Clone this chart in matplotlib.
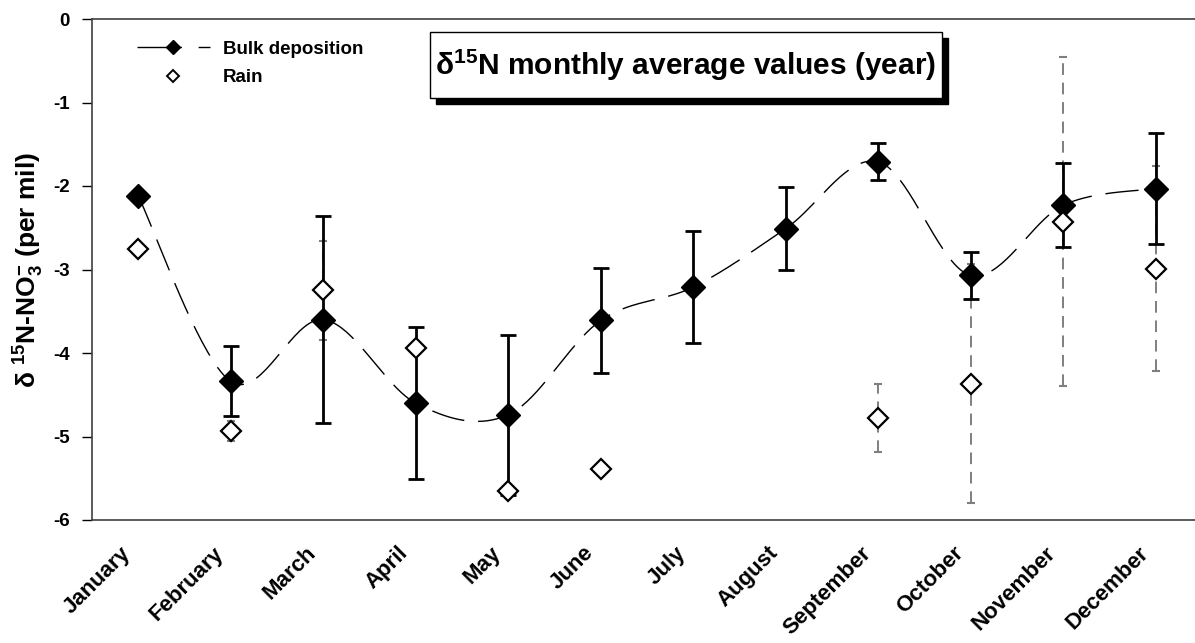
import numpy as np
import matplotlib
matplotlib.use('Agg')
import matplotlib.pyplot as plt
from matplotlib.lines import Line2D
from matplotlib.patches import Rectangle
import matplotlib.transforms as mtransforms

plt.rcParams['font.family'] = ['Liberation Sans', 'DejaVu Sans']
plt.rcParams['font.weight'] = 'bold'
plt.rcParams['axes.unicode_minus'] = False
plt.rcParams['mathtext.fontset'] = 'custom'
plt.rcParams['mathtext.rm'] = 'Liberation Sans:bold'
plt.rcParams['mathtext.bf'] = 'Liberation Sans:bold'
plt.rcParams['mathtext.it'] = 'Liberation Sans:bold:italic'

months = ['January', 'February', 'March', 'April', 'May', 'June', 'July',
          'August', 'September', 'October', 'November', 'December']

# monthly mean delta15N-NO3 (per mil) and standard deviations
bulk = [-2.12, -4.34, -3.60, -4.60, -4.74, -3.61, -3.21, -2.51, -1.71, -3.07, -2.23, -2.03]
bulk_sd = [0.0, 0.42, 1.24, 0.91, 0.96, 0.63, 0.67, 0.50, 0.22, 0.28, 0.50, 0.67]
rain = [-2.75, -4.93, -3.25, -3.94, -5.65, -5.39, np.nan, np.nan, -4.78, -4.37, -2.43, -2.99]
rain_sd = [0.0, 0.12, 0.59, 0.0, 0.0, 0.0, 0.0, 0.0, 0.41, 1.43, 1.97, 1.23]


def smooth(xs, ys, n=40):
    # bezier smoothing of the kind spreadsheet charts use for "smoothed line"
    xs = np.asarray(xs, float)
    ys = np.asarray(ys, float)
    px = np.concatenate([[xs[0]], xs, [xs[-1]]])
    py = np.concatenate([[ys[0]], ys, [ys[-1]]])
    outx, outy = [], []
    t = np.linspace(0, 1, n)
    for i in range(1, len(px) - 2):
        p0 = np.array([px[i], py[i]])
        p3 = np.array([px[i + 1], py[i + 1]])
        c1 = p0 + (np.array([px[i + 1], py[i + 1]]) - np.array([px[i - 1], py[i - 1]])) / 6
        c2 = p3 - (np.array([px[i + 2], py[i + 2]]) - np.array([px[i], py[i]])) / 6
        b = ((1 - t) ** 3)[:, None] * p0 + (3 * (1 - t) ** 2 * t)[:, None] * c1 \
            + (3 * (1 - t) * t ** 2)[:, None] * c2 + (t ** 3)[:, None] * p3
        outx.extend(b[:, 0])
        outy.extend(b[:, 1])
    return np.array(outx), np.array(outy)


W, H = 1195, 643
fig = plt.figure(figsize=(W / 100, H / 100), dpi=100)
ax = fig.add_axes([92 / W, 1 - 520 / H, (1202 - 92) / W, (520 - 19) / H])

x = np.arange(len(months))

# rain error bars (grey, dashed)
rmask = np.array(rain_sd) > 0
eb = ax.errorbar(x[rmask], np.array(rain)[rmask], yerr=np.array(rain_sd)[rmask], fmt='none',
                 ecolor='#7f7f7f', elinewidth=1.4, capsize=3, capthick=1.5, zorder=2)
eb[2][0].set_linestyle((0, (6, 4)))

# bulk error bars
bmask = np.array(bulk_sd) > 0
ax.errorbar(x[bmask], np.array(bulk)[bmask], yerr=np.array(bulk_sd)[bmask], fmt='none',
            ecolor='black', elinewidth=2, capsize=5.5, capthick=2, zorder=3)

# smoothed dashed line through bulk means
sx, sy = smooth(x, bulk)
ax.plot(sx, sy, color='black', lw=1, dashes=(24, 10), zorder=3)

ax.plot(x, bulk, linestyle='none', marker='D', ms=12, mfc='black', mec='black', zorder=4)
ax.plot(x, rain, linestyle='none', marker='D', ms=10, mfc='white', mec='black', mew=1.6, zorder=5)

ax.set_xlim(-0.5, 11.5)
ax.set_ylim(-6, 0)
ax.set_yticks(np.arange(-6, 1, 1))
ax.tick_params(axis='y', direction='out', length=7, width=1, labelsize=13.5, pad=9)
ax.tick_params(axis='x', length=0, labelsize=16, pad=4)
ax.set_xticks(x)
ax.set_xticklabels(months, rotation=45, ha='right', va='top', rotation_mode='anchor')
shift = mtransforms.ScaledTranslation(-0.18, -0.17, fig.dpi_scale_trans)
for lab in ax.get_xticklabels():
    lab.set_transform(lab.get_transform() + shift)

ax.spines['right'].set_visible(False)
for s in ['left', 'top', 'bottom']:
    ax.spines[s].set_color('#404040')
    ax.spines[s].set_linewidth(1.2)

ax.set_ylabel(r'δ $^{15}$N-NO$^{-}_{3}$ (per mil)', fontsize=19, fontweight='bold', labelpad=5)

# legend
h_bulk = Line2D([], [], color='black', lw=1, marker='D', ms=7, mfc='black', dashes=(32, 12, 10, 4))
h_rain = Line2D([], [], linestyle='none', marker='D', ms=6, mfc='white', mec='black', mew=1.4)
ax.legend([h_bulk, h_rain], ['Bulk deposition', 'Rain'], loc='upper left',
          bbox_to_anchor=(0.025, 0.99), frameon=False, handlelength=3.9, handletextpad=0.7,
          prop={'weight': 'bold', 'size': 13.5}, labelspacing=0.6)

# boxed title with shadow
bx0, by0, bx1, by1 = 430, 32, 942, 98
fig.patches.append(Rectangle(((bx0 + 6) / W, 1 - (by1 + 6) / H), (bx1 - bx0) / W, (by1 - by0) / H,
                             transform=fig.transFigure, fc='black', ec='black', zorder=10))
fig.patches.append(Rectangle((bx0 / W, 1 - by1 / H), (bx1 - bx0) / W, (by1 - by0) / H,
                             transform=fig.transFigure, fc='white', ec='black', lw=1, zorder=11))
fig.text((bx0 + bx1) / 2 / W, 1 - (by0 + by1) / 2 / H, r'δ$^{15}$N monthly average values (year)',
         ha='center', va='center', fontsize=21.5, fontweight='bold', zorder=12)

fig.savefig('out.png', dpi=100)
